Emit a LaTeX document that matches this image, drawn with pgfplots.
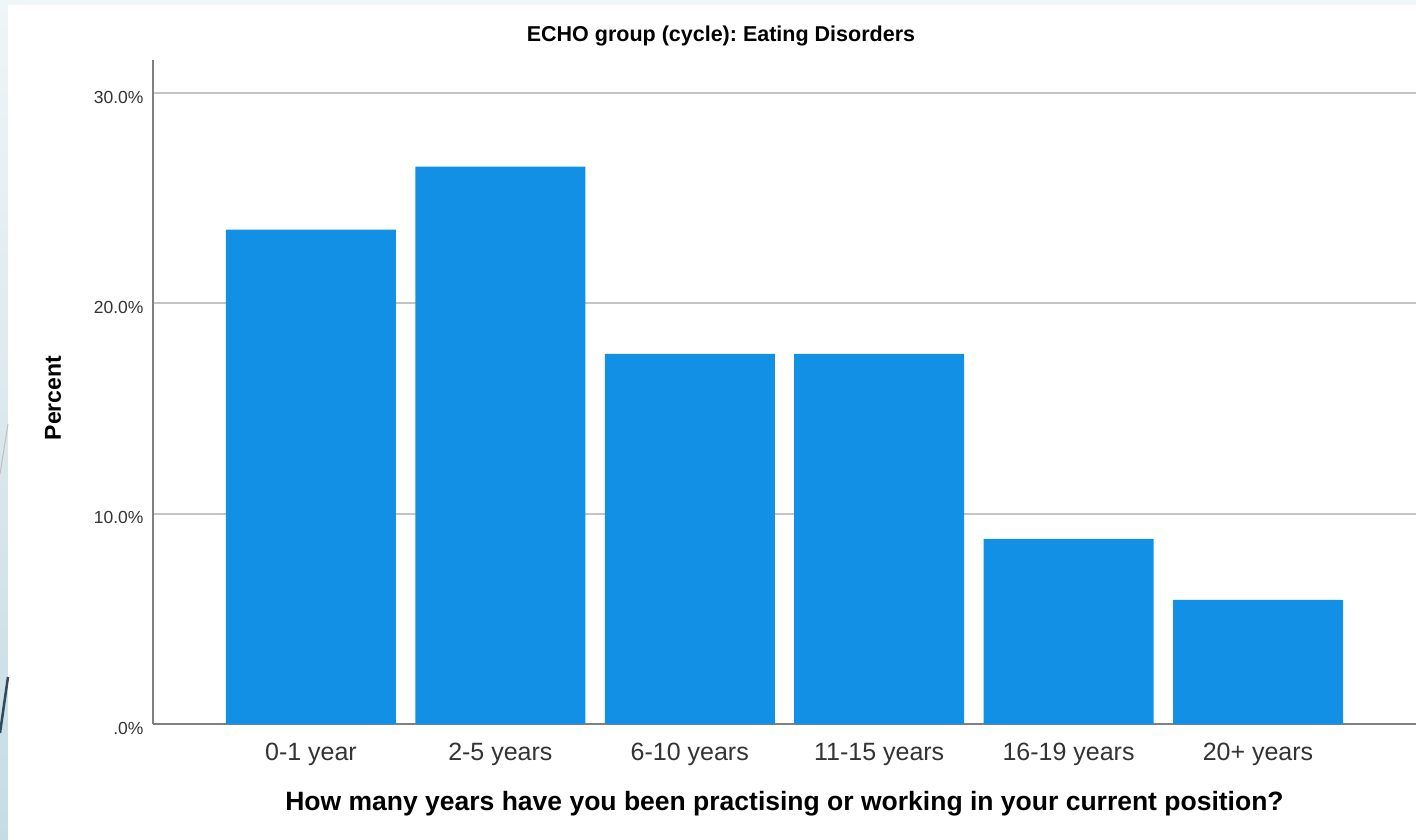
\documentclass[border=0pt]{standalone}
\usepackage{fontspec}
\setmainfont{Liberation Sans}
\usepackage{pgfplots}
\pgfplotsset{compat=1.18}
\definecolor{barblue}{RGB}{18,144,229}
\definecolor{gridgray}{RGB}{196,196,196}
\definecolor{axisgray}{RGB}{128,128,128}
\definecolor{labelgray}{RGB}{51,51,51}
\definecolor{slidebg}{RGB}{240,245,247}
\definecolor{slidebot}{RGB}{198,220,228}
\definecolor{slideline}{RGB}{45,74,94}

\begin{document}
\frenchspacing
\begin{tikzpicture}[x=1pt,y=1pt]
% slide backdrop behind the chart
\fill[slidebg] (-153,-115) rectangle (1263,724);
\shade[top color=slidebg, bottom color=slidebot] (-153,-115) rectangle (-145,724);
\fill[white] (-145,-115) rectangle (1263,719);
\draw[slideline, line width=2.5pt] (-153,-9) -- (-145,47);
\draw[gray!50, line width=1pt] (-153,250) -- (-145,300);

\begin{axis}[
  at={(0,0)}, anchor=south west,
  scale only axis,
  width=1263pt, height=664pt,
  xmin=-0.834, xmax=5.834,
  ymin=0, ymax=31.57,
  ybar, bar width=0.8976,
  axis x line*=bottom, axis y line*=left,
  axis line style={axisgray, line width=1.8pt, -},
  major tick length=0pt,
  xtick=data,
  xticklabels={0-1 year,2-5 years,6-10 years,11-15 years,16-19 years,20+ years},
  xticklabel style={font=\fontsize{25}{28}\selectfont, text=labelgray, anchor=base, yshift=-36pt},
  ytick={0,10,20,30},
  yticklabels={.0\%,10.0\%,20.0\%,30.0\%},
  yticklabel style={font=\fontsize{17.5}{20}\selectfont, text=labelgray, anchor=east, xshift=-6pt, yshift=-4pt},
  ymajorgrids,
  grid style={gridgray, line width=2pt},
  title={ECHO group (cycle): Eating Disorders},
  title style={font=\bfseries\fontsize{21.5}{25}\selectfont, at={(axis description cs:0.4497,1.027)}, anchor=center},
  ylabel={Percent},
  ylabel style={font=\bfseries\fontsize{23}{27}\selectfont, at={(axis description cs:-0.0792,0.491)}, anchor=center, rotate=0},
  xlabel={How many years have you been practising or working in your current position?},
  xlabel style={font=\bfseries\fontsize{26.5}{30}\selectfont, at={(axis description cs:0.5,-0.1205)}, anchor=center},
  clip=false,
]
\addplot[fill=barblue, draw=none] coordinates {
  (0,23.5) (1,26.5) (2,17.6) (3,17.6) (4,8.8) (5,5.9)
};
\end{axis}
\pgfresetboundingbox
\path (-153,-115) rectangle (1263,724);
\end{tikzpicture}
\end{document}
